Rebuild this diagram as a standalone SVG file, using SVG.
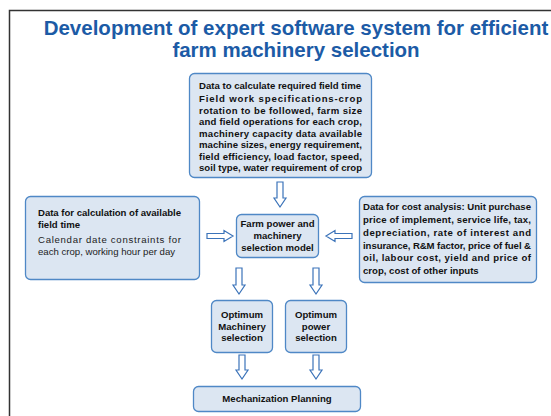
<svg xmlns="http://www.w3.org/2000/svg" width="551" height="416" viewBox="0 0 551 416">
<style>
.box{fill:#dce6f2;stroke:#4f88c6;stroke-width:1.3}
.t{font-family:"Liberation Sans",Arial,sans-serif;font-size:9.6px;font-weight:bold;fill:#111}
.r{font-family:"Liberation Sans",Arial,sans-serif;font-size:9.6px;fill:#222}
.c{text-anchor:middle}
.title{font-family:"Liberation Sans",Arial,sans-serif;font-size:20.5px;font-weight:bold;fill:#1c5ba6;text-anchor:middle}
.arr{fill:#fff;stroke:#3b73b9;stroke-width:1.2}
</style>
<rect width="551" height="416" fill="#fff"/>
<path d="M9.5 417 V10.5 H552" fill="none" stroke="#333" stroke-width="1.5"/>
<g id="title">
<text class="title" x="296" y="35">Development of expert software system for efficient</text>
<text class="title" x="296" y="57">farm machinery selection</text>
</g>
<g id="field-time-req">
<rect class="box" x="189.5" y="73.5" width="182" height="104" rx="5"/>
<text class="t" x="199" y="89" textLength="162" lengthAdjust="spacing">Data to calculate required field time</text>
<text class="t" x="199" y="102" textLength="163" lengthAdjust="spacing">Field work specifications-crop</text>
<text class="t" x="199" y="113.5" textLength="163" lengthAdjust="spacing">rotation to be followed, farm size</text>
<text class="t" x="199" y="125" textLength="163" lengthAdjust="spacing">and field operations for each crop,</text>
<text class="t" x="199" y="136.5" textLength="163" lengthAdjust="spacing">machinery capacity data available</text>
<text class="t" x="199" y="148" textLength="163" lengthAdjust="spacing">machine sizes, energy requirement,</text>
<text class="t" x="199" y="159.5" textLength="163" lengthAdjust="spacing">field efficiency, load factor, speed,</text>
<text class="t" x="199" y="171" textLength="163" lengthAdjust="spacing">soil type, water requirement of crop</text>
</g>
<g id="field-time-avail">
<rect class="box" x="25.5" y="196.5" width="174" height="83" rx="5"/>
<text class="t" x="38" y="216" textLength="143" lengthAdjust="spacing">Data for calculation of available</text>
<text class="t" x="38" y="228">field time</text>
<text class="r" x="38" y="243" textLength="143" lengthAdjust="spacing">Calendar date constraints for</text>
<text class="r" x="38" y="255">each crop, working hour per day</text>
</g>
<g id="cost">
<rect class="box" x="359.5" y="196.5" width="177" height="86" rx="5"/>
<text class="t" x="363" y="210" textLength="168" lengthAdjust="spacing">Data for cost analysis: Unit purchase</text>
<text class="t" x="363" y="223" textLength="168" lengthAdjust="spacing">price of implement, service life, tax,</text>
<text class="t" x="363" y="236" textLength="168" lengthAdjust="spacing">depreciation, rate of interest and</text>
<text class="t" x="363" y="248.5" textLength="168" lengthAdjust="spacing">insurance, R&amp;M factor, price of fuel &amp;</text>
<text class="t" x="363" y="261" textLength="168" lengthAdjust="spacing">oil, labour cost, yield and price of</text>
<text class="t" x="363" y="274">crop, cost of other inputs</text>
</g>
<g id="model">
<rect class="box" x="236.5" y="214.5" width="82" height="43" rx="5"/>
<text class="t c" x="277.5" y="227">Farm power and</text>
<text class="t c" x="277.5" y="239">machinery</text>
<text class="t c" x="277.5" y="251">selection model</text>
</g>
<g id="opt-machinery">
<rect class="box" x="211.5" y="300.5" width="61" height="52" rx="5"/>
<text class="t c" x="242" y="318">Optimum</text>
<text class="t c" x="242" y="329.5">Machinery</text>
<text class="t c" x="242" y="341">selection</text>
</g>
<g id="opt-power">
<rect class="box" x="285.5" y="300.5" width="61" height="52" rx="5"/>
<text class="t c" x="316" y="318">Optimum</text>
<text class="t c" x="316" y="329.5">power</text>
<text class="t c" x="316" y="341">selection</text>
</g>
<g id="mechanization">
<rect class="box" x="193.5" y="386.5" width="167" height="25" rx="5"/>
<text class="t c" x="277" y="402">Mechanization Planning</text>
</g>
<g id="connectors">
<path class="arr" d="M277 182 H283 V198 H286 L280 207 L274 198 H277 Z"/>
<path class="arr" d="M207 233.5 H224 V230.5 L233 236 L224 241.5 V238.5 H207 Z"/>
<path class="arr" d="M352 233.5 H335 V230.5 L326 236 L335 241.5 V238.5 H352 Z"/>
<path class="arr" d="M236 268 H242 V285 H245 L239 294 L233 285 H236 Z"/>
<path class="arr" d="M313 268 H319 V285 H322 L316 294 L310 285 H313 Z"/>
<path class="arr" d="M239 355 H245 V370 H248 L242 379 L236 370 H239 Z"/>
<path class="arr" d="M313 355 H319 V370 H322 L316 379 L310 370 H313 Z"/>
</g>
</svg>
